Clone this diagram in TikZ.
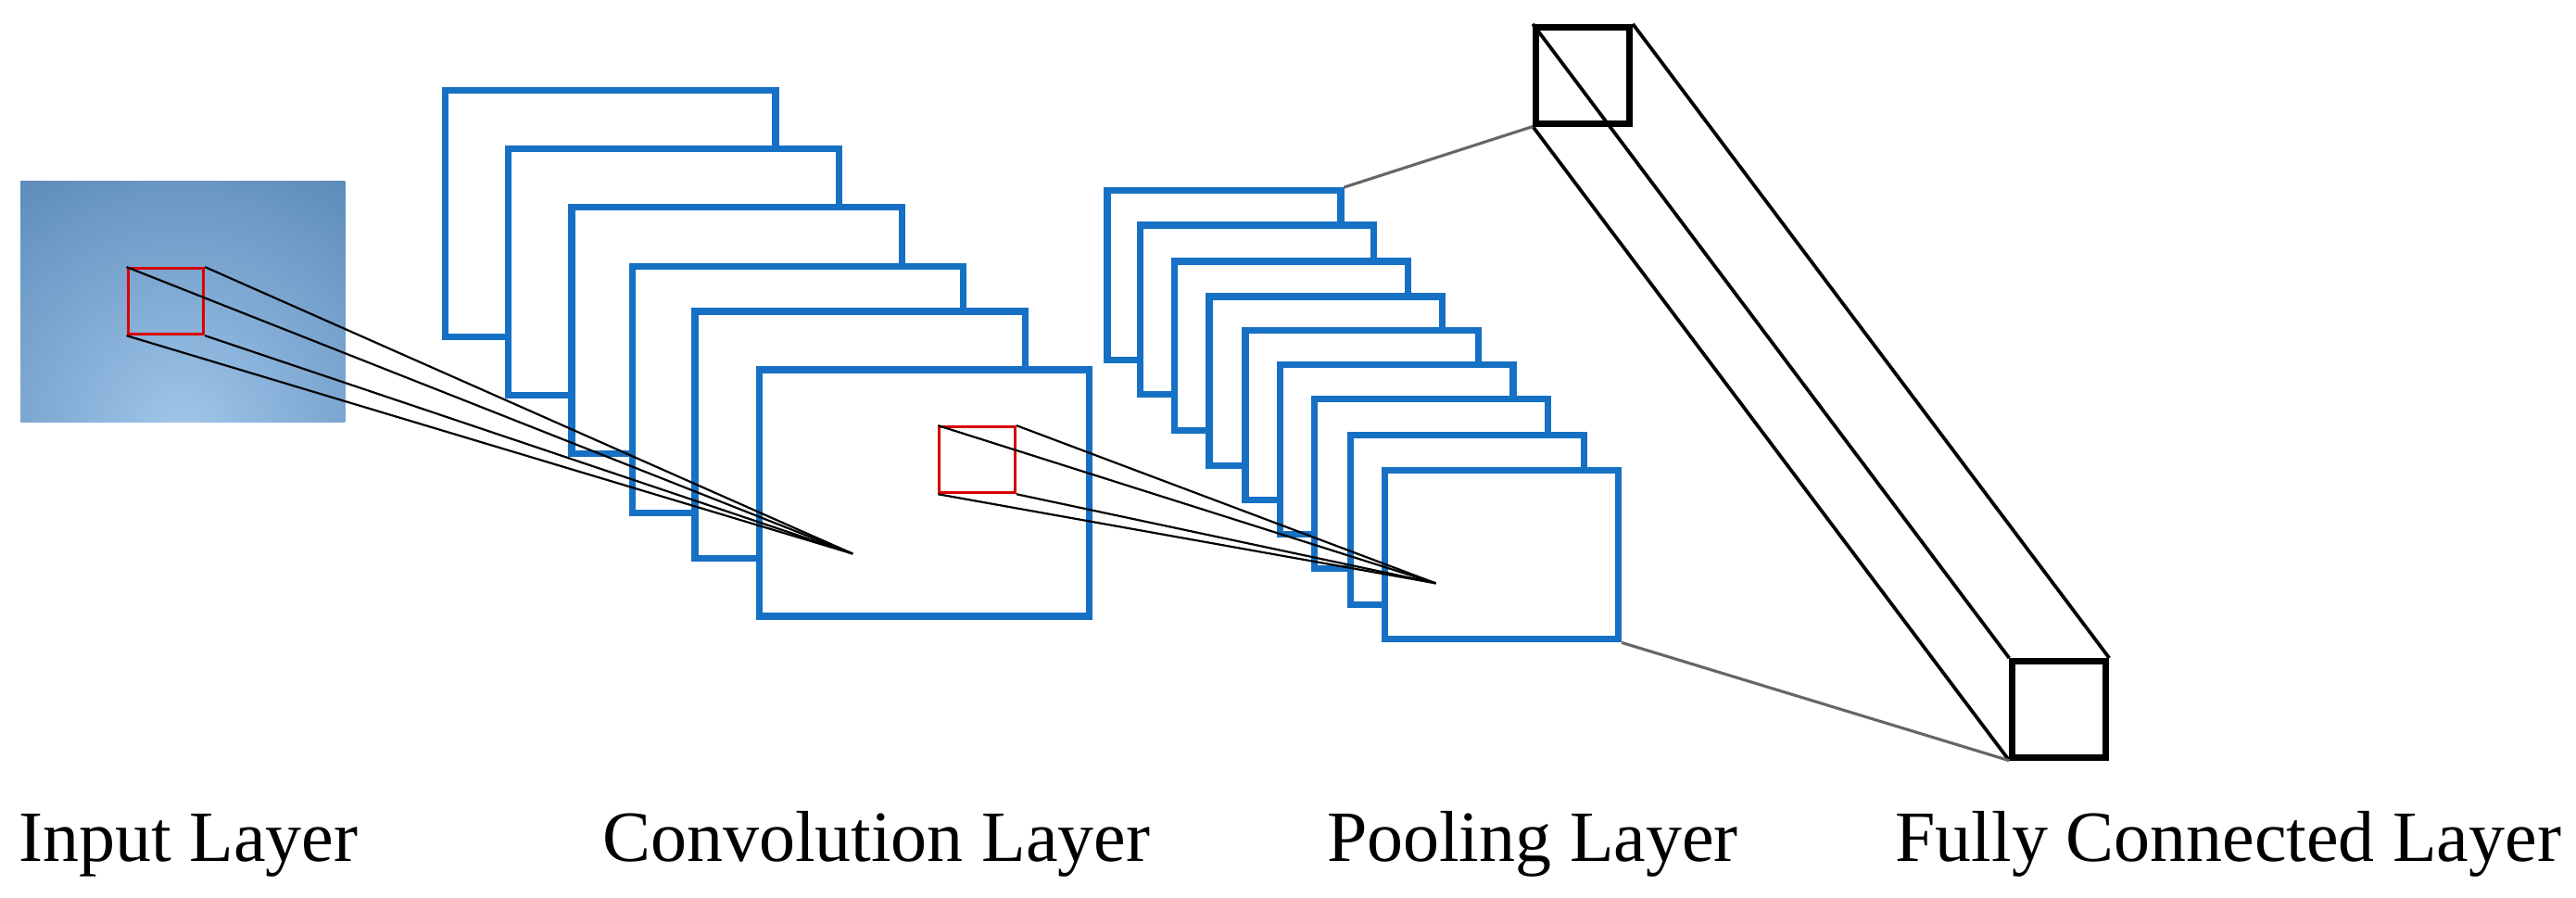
\documentclass[tikz,border=0pt]{standalone}
\usepackage{fontspec}
\setmainfont{Liberation Serif}
\definecolor{frameblue}{RGB}{22,112,196}
\definecolor{indark}{RGB}{38,92,148}
\definecolor{inlight}{RGB}{160,198,234}
\tikzset{
  conv/.style={draw=frameblue, line width=1.15pt, fill=white, inner sep=0pt,
    anchor=north west, minimum width=2.01cm, minimum height=1.5cm},
  pool/.style={draw=frameblue, line width=1.15pt, fill=white, inner sep=0pt,
    anchor=north west, minimum width=1.42cm, minimum height=1.03cm},
  patch/.style={draw=red!85!black, line width=0.5pt, inner sep=0pt, anchor=north west},
  ray/.style={black, line width=0.35pt},
  fc/.style={draw=black, line width=1.1pt, inner sep=0pt, anchor=north west,
    minimum width=0.57cm, minimum height=0.585cm},
  edge/.style={black, line width=0.6pt},
  link/.style={black!60, line width=0.5pt},
  label/.style={font=\fontsize{12.5}{14}\selectfont, anchor=base west, inner sep=0pt}
}
\begin{document}
\begin{tikzpicture}[x=0.01cm, y=-0.01cm]
\useasboundingbox (0,0) rectangle (1568,546);
% input image
\begin{scope}
  \clip (12.6,110) rectangle (210,257);
  \fill[indark] (12.6,110) rectangle (210,257);
  \shade[inner color=inlight, outer color=indark] (110,262) circle (330);
\end{scope}
\node[patch, minimum width=0.46cm, minimum height=0.4cm] (ip) at (77,162.5) {};
% convolution layer
\node[conv] (c1) at (269,53) {};
\node[conv] (c2) at (307.5,88.5) {};
\node[conv] (c3) at (346,124) {};
\node[conv] (c4) at (383,160) {};
\node[conv] (c5) at (421,187.5) {};
\node[conv] (c6) at (460,223) {};
\node[patch, minimum width=0.46cm, minimum height=0.4cm] (cp) at (571,259) {};
\coordinate (cf) at (519,337);
% pooling layer
\node[pool] (p1) at (672,114) {};
\node[pool] (p2) at (692,135) {};
\node[pool] (p3) at (713,157) {};
\node[pool] (p4) at (734,178.5) {};
\node[pool] (p5) at (756,199) {};
\node[pool] (p6) at (777,220) {};
\node[pool] (p7) at (798,241) {};
\node[pool] (p8) at (820,263) {};
\node[pool] (p9) at (841,284) {};
\coordinate (pf) at (874,355);
% fully connected layer
\node[fc] (f1) at (933,14.6) {};
\node[fc] (f2) at (1223,400.5) {};
\draw[edge] (f1.north west) -- (f2.north west);
\draw[edge] (f1.north east) -- (f2.north east);
\draw[edge] (f1.south west) -- (f2.south west);
\draw[link] (p1.north east) -- (f1.south west);
\draw[link] (p9.south east) -- (f2.south west);
% receptive field rays
\foreach \a in {north west, north east, south west, south east}{
  \draw[ray] (ip.\a) -- (cf);
  \draw[ray] (cp.\a) -- (pf);
}
% labels
\node[label] (t1) at (11,524) {Input Layer};
\node[label] (t2) at (366,524) {Convolution Layer};
\node[label] (t3) at (807,524) {Pooling Layer};
\node[label] (t4) at (1153,524) {Fully Connected Layer};
\end{tikzpicture}
\end{document}
